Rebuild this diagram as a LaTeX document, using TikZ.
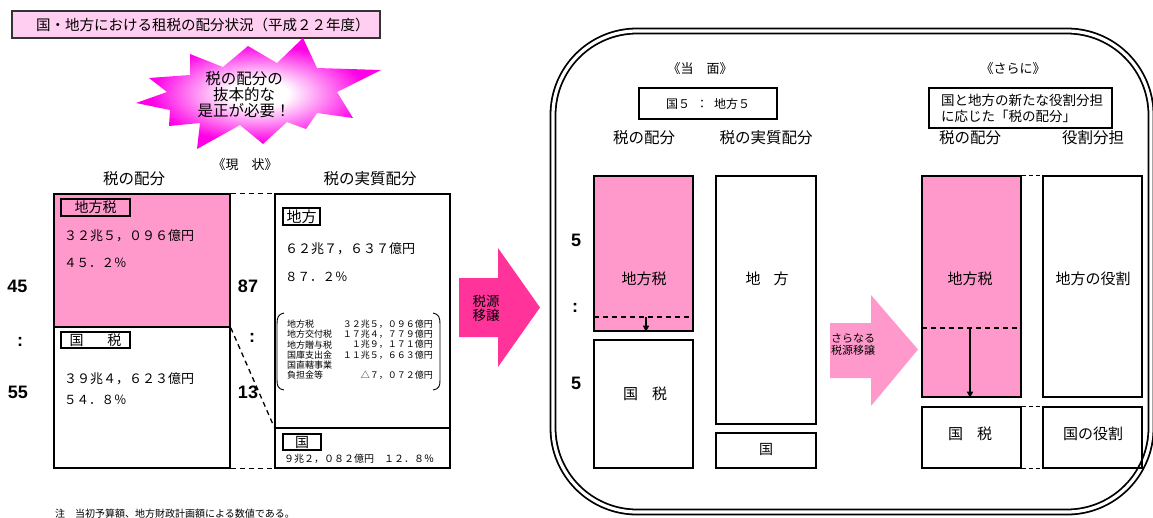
\documentclass[tikz,border=0pt]{standalone}
\usepackage{fontspec}
\setmainfont{Noto Sans CJK JP}
\newfontfamily\numfont{Liberation Sans}
\usetikzlibrary{arrows.meta}
\definecolor{pinkA}{RGB}{255,153,204}
\definecolor{pinkT}{RGB}{255,206,240}
\definecolor{hotpink}{RGB}{255,51,153}
\definecolor{magS}{RGB}{255,0,230}
\pgfdeclareradialshading{burstshade}{\pgfpoint{0bp}{0bp}}{color(0bp)=(white); color(6bp)=(white); color(22bp)=(magS); color(50bp)=(magS)}
\newcommand{\fsz}[2]{\fontsize{#1}{#2}\selectfont}
\begin{document}
\begin{tikzpicture}[x=1pt,y=-1pt,
  bx/.style 2 args={draw=black, line width=1.6pt, inner sep=0pt, minimum width=#1pt, minimum height=#2pt},
  rbx/.style 2 args={draw=black, line width=1.4pt, inner sep=0pt, minimum width=#1pt, minimum height=#2pt},
  lbl/.style 2 args={draw=black, line width=1.2pt, inner sep=0pt, minimum width=#1pt, minimum height=#2pt},
  tx/.style={inner sep=0pt, font=\fsz{15}{17}},
  num/.style={inner sep=0pt, font=\numfont\bfseries\fsz{18}{20}},
  dsh/.style={line width=1.3pt, dash pattern=on 5pt off 4pt},
  arr/.style={line width=1.3pt, -{Triangle[length=6pt,width=6pt]}},
]
\useasboundingbox[fill=white] (0,0) rectangle (1153,517);

% ---------- title ----------
\node[draw=black!80, line width=1.1pt, fill=pinkT, minimum width=368pt, minimum height=27pt, inner sep=0pt] (title) at (196,24.5) {};
\node[tx, anchor=west, font=\fsz{14.5}{17}] (titletxt) at (36,24.5) {国・地方における租税の配分状況（平成２２年度）};

% ---------- starburst ----------
\shade[shading=burstshade]
  (303,38) -- (317,68) -- (381,70) -- (337,92) -- (353,118) -- (317,113) -- (306,129)
  -- (287,122) -- (263,144) -- (240,125) -- (197,149) -- (200,123) -- (169,126)
  -- (170,110) -- (136,103) -- (167,92) -- (149,78) -- (190,75) -- (190,54)
  -- (223,67) -- (248,46) -- (277,63) -- cycle;
\node[tx, align=center, font=\fsz{15.5}{16}] (burst) at (244,95) {税の配分の\\抜本的な\\是正が必要！};

% ---------- current state ----------
\node[tx, font=\fsz{13}{15}] (genjo) at (245,165) {《現　状》};
\node[tx, font=\fsz{15.5}{17}] (h1) at (134,179) {税の配分};
\node[tx, font=\fsz{15.5}{17}] (h2) at (370,179) {税の実質配分};

\node[bx={176}{133}, fill=pinkA] (gpink) at (142,260.5) {};
\node[bx={176}{141}] (gkoku) at (142,397.5) {};
\node[bx={175}{234}] (jchiho) at (362.5,311) {};
\node[bx={175}{40}] (jkuni) at (362.5,448) {};

\node[lbl={69}{17}, font=\fsz{14}{16}] (lchizei) at (95.5,207.5) {地方税};
\node[lbl={69}{16}, font=\fsz{14}{16}] (lkokuzei) at (95.5,340) {国\hspace{24pt}税};
\node[lbl={37}{17}, font=\fsz{15}{17}] (lchiho) at (301.5,216.5) {地方};
\node[lbl={38}{16}, font=\fsz{14}{16}] (lkuni) at (302,442) {国};

\node[tx, anchor=west, font=\fsz{13}{15}] (t1) at (64,236) {３２兆５，０９６億円};
\node[tx, anchor=west, font=\fsz{12.5}{15}] (t2) at (64,263) {４５．２％};
\node[tx, anchor=west, font=\fsz{13}{15}] (t3) at (64,379) {３９兆４，６２３億円};
\node[tx, anchor=west, font=\fsz{12.5}{15}] (t4) at (64,400) {５４．８％};
\node[tx, anchor=west, font=\fsz{13}{15}] (t5) at (285,249) {６２兆７，６３７億円};
\node[tx, anchor=west, font=\fsz{12.5}{15}] (t6) at (285,277) {８７．２％};
\node[tx, anchor=west, font=\fsz{10}{12}] (t7) at (284,459) {９兆２，０８２億円　１２．８％};

% itemised list
\foreach \i/\a/\b in {0/地方税/３２兆５，０９６億円,1/地方交付税/１７兆４，７７９億円,2/地方贈与税/１兆９，１７１億円,3/国庫支出金/１１兆５，６６３億円,4/国直轄事業/{},5/負担金等/△７，０７２億円}{
  \node[tx, anchor=west, font=\fsz{9}{10}] (la\i) at (287,{324+10.3*\i}) {\a};
  \node[tx, anchor=east, font=\fsz{9}{10}] (lb\i) at (433,{324+10.3*\i}) {\b};
}
\draw[line width=0.9pt] (284,313) .. controls (278,314) and (277,318) .. (277,324) -- (277,380) .. controls (277,386) and (278,389) .. (284,390);
\draw[line width=0.9pt] (433,313) .. controls (439,314) and (440,318) .. (440,324) -- (440,380) .. controls (440,386) and (439,389) .. (433,390);

% connectors between columns
\draw[dsh] (gpink.north east) -- (jchiho.north west);
\draw[dsh] (gpink.south east) -- (jkuni.north west);
\draw[dsh] (gkoku.south east) -- (jkuni.south west);

% ratio numbers
\node[num] (n45) at (17.5,286) {45};
\node[num] (nc1) at (20,342) {:};
\node[num] (n55) at (18,392) {55};
\node[num] (n87) at (248,286) {87};
\node[num] (nc2) at (252,338) {:};
\node[num] (n13) at (248,392) {13};

\node[tx, anchor=west, font=\fsz{10}{12}] (note) at (55,514) {注　当初予算額、地方財政計画額による数値である。};

% ---------- big arrow ----------
\fill[hotpink] (459,278) -- (498,278) -- (498,248) -- (540,307.5) -- (498,367) -- (498,337) -- (459,337) -- cycle;
\node[tx, align=center, font=\fsz{13.5}{14}] (zeigen) at (486,308) {税源\\移譲};

% ---------- framed panel ----------
\node[draw=black, line width=1.8pt, double=white, double distance=3.2pt, rounded corners=84pt, minimum width=598pt, minimum height=481pt, inner sep=0pt] (frame) at (852,271.5) {};

\node[tx, font=\fsz{13}{15}] (toumen) at (700,69) {《当　面》};
\node[rbx={138}{31}, line width=1.5pt, font=\fsz{12}{14}] (ratio) at (708,103.5) {国５\hspace{6pt}：\hspace{6pt}地方５};
\node[tx, font=\fsz{15.5}{17}] (h3) at (644,138) {税の配分};
\node[tx, font=\fsz{15.5}{17}] (h4) at (766,138) {税の実質配分};

\node[rbx={99}{155}, fill=pinkA] (apink) at (643.5,253.5) {};
\node[rbx={99}{128}] (akoku) at (643.5,404) {};
\node[rbx={100}{248}] (achiho) at (766,300) {};
\node[rbx={100}{35}] (akuni) at (766,450.5) {};
\node[tx] (at1) at (644,279) {地方税};
\node[tx] (at2) at (645,394) {国\hspace{14pt}税};
\node[tx] (at3) at (767,279) {地\hspace{13pt}方};
\node[tx, font=\fsz{14}{16}] (at4) at (766,449) {国};
\coordinate (ad1) at (594,317);
\coordinate (ad2) at (693,317);
\coordinate (adm) at (646,317);
\draw[dsh, line width=1.2pt] (ad1) -- (ad2);
\draw[arr] (adm) -- (adm |- apink.south);

\node[num] (r5a) at (576,240) {5};
\node[num] (rc) at (575,308) {:};
\node[num] (r5b) at (576,383) {5};

% ---------- light arrow ----------
\fill[pinkA] (830,323) -- (871,323) -- (871,295) -- (918,349.5) -- (871,406) -- (871,378) -- (830,378) -- cycle;
\node[tx, anchor=west, align=left, font=\fsz{11}{12}] (sarani2) at (831,345) {さらなる\\税源移譲};

% ---------- further ----------
\node[tx, font=\fsz{13}{15}] (sarani) at (1013,69) {《さらに》};
\node[rbx={183}{40}, line width=1.5pt] (newbox) at (1020.5,108) {};
\node[tx, anchor=west, align=left, font=\fsz{13.5}{16.5}] (newtxt) at (941,108.5) {国と地方の新たな役割分担\\に応じた「税の配分」};
\node[tx, font=\fsz{15.5}{17}] (h5) at (970,138) {税の配分};
\node[tx, font=\fsz{15.5}{17}] (h6) at (1093,138) {役割分担};

\node[rbx={99}{221}, fill=pinkA] (bpink) at (971.5,286.5) {};
\node[rbx={99}{61}] (bkoku) at (971.5,437.5) {};
\node[rbx={99}{221}] (bchiho) at (1092.5,286.5) {};
\node[rbx={99}{61}] (bkuni) at (1092.5,437.5) {};
\node[tx] (bt1) at (970,279) {地方税};
\node[tx] (bt2) at (970,434) {国\hspace{14pt}税};
\node[tx] (bt3) at (1093,279) {地方の役割};
\node[tx] (bt4) at (1093,434) {国の役割};
\coordinate (bd1) at (922,328);
\coordinate (bd2) at (1021,328);
\coordinate (bdm) at (970,328);
\draw[dsh, line width=1.2pt] (bd1) -- (bd2);
\draw[arr] (bdm) -- (bdm |- bpink.south);
\draw[dsh, line width=1pt, dash pattern=on 4pt off 3pt] (bpink.north east) -- (bchiho.north west);
\draw[dsh, line width=1pt, dash pattern=on 4pt off 3pt] (bkoku.north east) -- (bkuni.north west);
\draw[dsh, line width=1pt, dash pattern=on 4pt off 3pt] (bkoku.south east) -- (bkuni.south west);
\end{tikzpicture}
\end{document}
